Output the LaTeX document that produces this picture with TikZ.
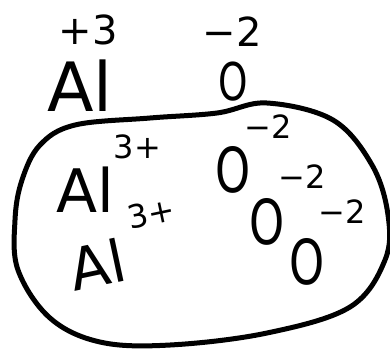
\documentclass[tikz,border=0pt]{standalone}
\usepackage{fontspec}
\setmainfont{DejaVu Sans}
\newcommand{\supsm}[2]{\raisebox{#1}{\fontsize{32}{32}\selectfont #2}}
\begin{document}
\begin{tikzpicture}[x=1pt,y=-1pt,
  lbl/.style={inner sep=0pt,font=\fontsize{#1}{#1}\selectfont},
  lbl/.default=40,
  oh/.style={xscale=0.72}]
\path[use as bounding box,fill=white] (0,0) rectangle (390,349);
% top formula
\node[lbl=40] (c1) at (88,30) {+3};
\node[lbl=40] (c2) at (232,32) {−2};
\node[lbl=68] (al) at (80,86) {Al};
\node[lbl=52,oh] (o) at (233,82) {O};
% boundary
\draw[line width=5pt,line join=round] plot[smooth cycle,tension=0.6] coordinates {
 (75,125) (150,118) (217,113) (267,103) (333,120) (372,165) (388,215) (385,260)
 (350,307) (267,333) (170,345) (100,342) (50,318) (18,270) (15,220) (22,180) (40,145)};
% inside ions
\node[lbl=60,anchor=base west] (a1) at (56,212) {Al\supsm{0.9em}{3+}};
\node[lbl=58,anchor=base west,rotate=12] (a2) at (74,292) {Al\kern12pt\supsm{0.85em}{3+}};
\node[lbl=62,oh] (o1) at (233,170) {O};
\node[lbl=32] (t1) at (268,127) {−2};
\node[lbl=62,oh] (o2) at (267,222) {O};
\node[lbl=32] (t2) at (302,177) {−2};
\node[lbl=62,oh] (o3) at (307,262) {O};
\node[lbl=32] (t3) at (342,212) {−2};
\end{tikzpicture}
\end{document}
